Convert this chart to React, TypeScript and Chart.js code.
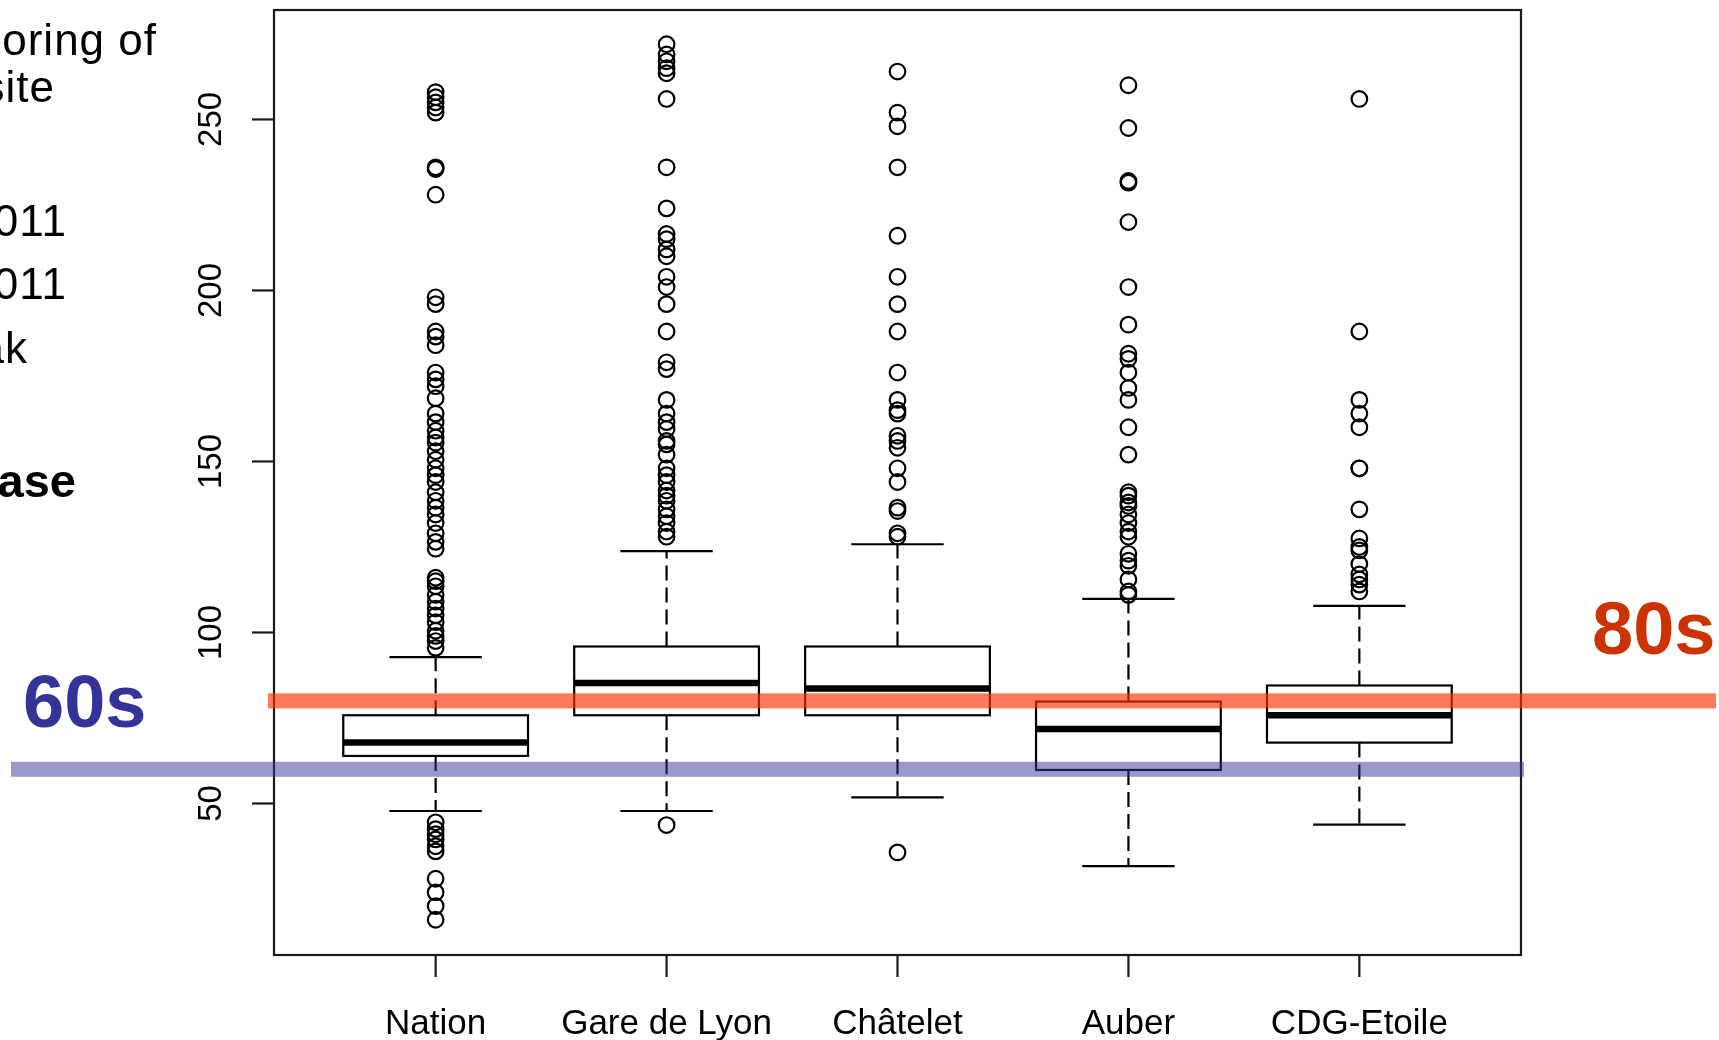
import React, { useEffect, useRef } from "react";
import { Chart, registerables } from "chart.js";

Chart.register(...registerables);

// Stations along the line, left to right
const stations = ["Nation", "Gare de Lyon", "Châtelet", "Auber", "CDG-Etoile"];

// Five-number summaries (seconds)
const whiskerLow = [47.8, 47.8, 51.8, 31.7, 43.8];
const quartile1 = [63.9, 75.8, 75.8, 59.8, 67.8];
const medians = [67.8, 85.2, 83.6, 71.8, 75.8];
const quartile3 = [75.8, 95.9, 95.9, 79.8, 84.5];
const whiskerHigh = [92.8, 123.8, 125.8, 109.8, 107.8];

// Values outside the whiskers, one list per station
const outliersNation = [
  258, 256.5, 255, 253.5, 252, 236, 235.5, 228, 198, 196, 188, 186.5, 184, 176, 174, 172,
  168.5, 164, 161.5, 159, 157, 155.5, 153, 150.5, 148, 146, 144, 141, 138.5, 136.5, 134.5,
  132, 129, 126.5, 124.5, 116, 115, 113.5, 111, 109, 107, 105, 103, 100.5, 99, 97.5, 95.5,
  44.5, 42.5, 41, 39.5, 37.5, 36, 28, 24, 20, 16,
];
const outliersGareDeLyon = [
  272, 269, 267, 265, 263.5, 256, 236, 224, 216.5, 215, 212, 210, 204, 201, 196, 188, 179,
  177, 168, 164, 161.5, 159.5, 156, 155, 152, 148, 146, 144, 141.5, 140, 138.5, 136, 134,
  132, 129.5, 128, 43.7,
];
const outliersChatelet = [
  264, 252, 248, 236, 216, 204, 196, 188, 176, 168, 165, 164, 157.5, 156, 154, 148, 144,
  136.5, 135.5, 129, 128, 35.7,
];
const outliersAuber = [
  260, 247.5, 232, 231.5, 220, 201, 190, 181.5, 180, 176, 171.5, 168, 160, 152, 141, 140,
  138, 137, 134.5, 132, 129.5, 128, 123, 121, 119.5, 115.5, 112, 111,
];
const outliersCdgEtoile = [
  256, 188, 168, 164, 160, 148, 148, 136, 127.5, 125, 124, 120, 117, 115.5, 114, 112,
];
const outlierLists = [
  outliersNation,
  outliersGareDeLyon,
  outliersChatelet,
  outliersAuber,
  outliersCdgEtoile,
];

// Axis ticks and range
const yTicks = [50, 100, 150, 200, 250];
const yMin = 5.7;
const yMax = 282;
const xMin = 0.3;
const xMax = 5.7;

// Target headway bands
const targetFast = 60;
const targetSlow = 80;

// Fragments of the slide text at the left edge
const sideText = [
  { text: "oring of", right: 157, baseline: 55, bold: false, size: 44, spacing: 1 },
  { text: "site", right: 55, baseline: 102, bold: false, size: 44, spacing: 1 },
  { text: "011", right: 67, baseline: 236, bold: false, size: 44, spacing: 1 },
  { text: "011", right: 67, baseline: 299, bold: false, size: 44, spacing: 1 },
  { text: "ak", right: 28, baseline: 363, bold: false, size: 44, spacing: 1 },
  { text: "ase", right: 76, baseline: 497, bold: true, size: 47, spacing: 0 },
];

const FONT = '"Liberation Sans", Arial, Helvetica, sans-serif';
const BOX_WIDTH = 0.8;

const boxPlugin = {
  id: "boxes",
  beforeDatasetsDraw(chart: any) {
    const { ctx } = chart;
    const x = chart.scales.x;
    const y = chart.scales.y;
    const line = (x1: number, y1: number, x2: number, y2: number) => {
      ctx.beginPath();
      ctx.moveTo(x1, y1);
      ctx.lineTo(x2, y2);
      ctx.stroke();
    };
    ctx.save();
    ctx.strokeStyle = "#000";
    stations.forEach((_, i) => {
      const cx = x.getPixelForValue(i + 1);
      const halfBox = x.getPixelForValue(i + 1 + BOX_WIDTH / 2) - cx;
      const halfCap = halfBox / 2;
      const yLow = y.getPixelForValue(whiskerLow[i]);
      const yQ1 = y.getPixelForValue(quartile1[i]);
      const yMed = y.getPixelForValue(medians[i]);
      const yQ3 = y.getPixelForValue(quartile3[i]);
      const yHigh = y.getPixelForValue(whiskerHigh[i]);

      ctx.lineWidth = 2.2;
      ctx.setLineDash([15, 7]);
      line(cx, yQ3, cx, yHigh);
      line(cx, yQ1, cx, yLow);
      ctx.setLineDash([]);
      line(cx - halfCap, yHigh, cx + halfCap, yHigh);
      line(cx - halfCap, yLow, cx + halfCap, yLow);

      ctx.strokeRect(cx - halfBox, yQ3, halfBox * 2, yQ1 - yQ3);
      ctx.lineWidth = 6.5;
      line(cx - halfBox, yMed, cx + halfBox, yMed);
    });
    ctx.restore();
  },
};

const axesPlugin = {
  id: "frameAxes",
  afterDraw(chart: any) {
    const { ctx, chartArea } = chart;
    const x = chart.scales.x;
    const y = chart.scales.y;
    const line = (x1: number, y1: number, x2: number, y2: number) => {
      ctx.beginPath();
      ctx.moveTo(x1, y1);
      ctx.lineTo(x2, y2);
      ctx.stroke();
    };
    ctx.save();
    ctx.strokeStyle = "#1a1a1a";
    ctx.fillStyle = "#000";
    ctx.lineWidth = 2.2;
    ctx.strokeRect(
      chartArea.left,
      chartArea.top,
      chartArea.right - chartArea.left,
      chartArea.bottom - chartArea.top
    );

    // y axis: ticks and labels written upward
    ctx.font = `33px ${FONT}`;
    ctx.textAlign = "center";
    ctx.textBaseline = "alphabetic";
    yTicks.forEach((v) => {
      const py = y.getPixelForValue(v);
      line(chartArea.left - 22, py, chartArea.left, py);
      ctx.save();
      ctx.translate(chartArea.left - 53, py);
      ctx.rotate(-Math.PI / 2);
      ctx.fillText(String(v), 0, 0);
      ctx.restore();
    });

    // x axis: station ticks and names
    ctx.font = `35px ${FONT}`;
    stations.forEach((name, i) => {
      const px = x.getPixelForValue(i + 1);
      line(px, chartArea.bottom, px, chartArea.bottom + 22);
      ctx.fillText(name, px, chartArea.bottom + 79);
    });

    // target bands laid over the plot
    const band = 15;
    const yFast = y.getPixelForValue(targetFast);
    ctx.fillStyle = "rgba(51, 51, 153, 0.5)";
    ctx.fillRect(11, yFast - band / 2, chartArea.right + 3 - 11, band);
    const ySlow = y.getPixelForValue(targetSlow);
    ctx.fillStyle = "rgba(255, 51, 0, 0.65)";
    ctx.fillRect(chartArea.left - 6, ySlow - band / 2, chart.width - 3 - (chartArea.left - 6), band);
    ctx.restore();
  },
};

export default function App() {
  const canvasRef = useRef<HTMLCanvasElement | null>(null);

  useEffect(() => {
    const canvas = canvasRef.current;
    if (!canvas) return;
    const points: { x: number; y: number }[] = [];
    outlierLists.forEach((list, i) => {
      list.forEach((v) => points.push({ x: i + 1, y: v }));
    });

    const chart = new Chart(canvas, {
      type: "scatter",
      data: {
        datasets: [
          {
            label: "outliers",
            data: points,
            pointStyle: "circle",
            pointRadius: 7.8,
            pointHoverRadius: 7.8,
            borderWidth: 2.2,
            borderColor: "#000",
            backgroundColor: "rgba(0,0,0,0)",
          },
        ],
      },
      options: {
        animation: false,
        responsive: false,
        devicePixelRatio: 1,
        events: [],
        layout: { padding: { left: 274, top: 8, right: 198, bottom: 85 } },
        plugins: {
          legend: { display: false },
          tooltip: { enabled: false },
        },
        scales: {
          x: { type: "linear", min: xMin, max: xMax, display: false },
          y: { type: "linear", min: yMin, max: yMax, display: false },
        },
      },
      plugins: [boxPlugin, axesPlugin],
    });
    return () => chart.destroy();
  }, []);

  const bigSize = 74;
  return (
    <div
      style={{
        position: "fixed",
        left: 0,
        top: 0,
        width: 1719,
        height: 1040,
        background: "#fff",
        overflow: "hidden",
        fontFamily: FONT,
      }}
    >
      <canvas
        ref={canvasRef}
        width={1719}
        height={1040}
        style={{ position: "absolute", left: 0, top: 0, width: 1719, height: 1040 }}
      />
      {sideText.map((t, i) => (
        <div
          key={i}
          style={{
            position: "absolute",
            right: 1719 - t.right,
            top: t.baseline - t.size * 0.8465,
            fontSize: t.size,
            lineHeight: `${t.size}px`,
            fontWeight: t.bold ? 700 : 400,
            letterSpacing: t.spacing,
            whiteSpace: "nowrap",
            color: "#000",
          }}
        >
          {t.text}
        </div>
      ))}
      <div
        style={{
          position: "absolute",
          left: 23,
          top: 728 - bigSize * 0.8465,
          fontSize: bigSize,
          lineHeight: `${bigSize}px`,
          fontWeight: 700,
          color: "#333399",
          whiteSpace: "nowrap",
        }}
      >
        60s
      </div>
      <div
        style={{
          position: "absolute",
          left: 1592,
          top: 655 - bigSize * 0.8465,
          fontSize: bigSize,
          lineHeight: `${bigSize}px`,
          fontWeight: 700,
          color: "#CC3300",
          whiteSpace: "nowrap",
        }}
      >
        80s
      </div>
    </div>
  );
}
